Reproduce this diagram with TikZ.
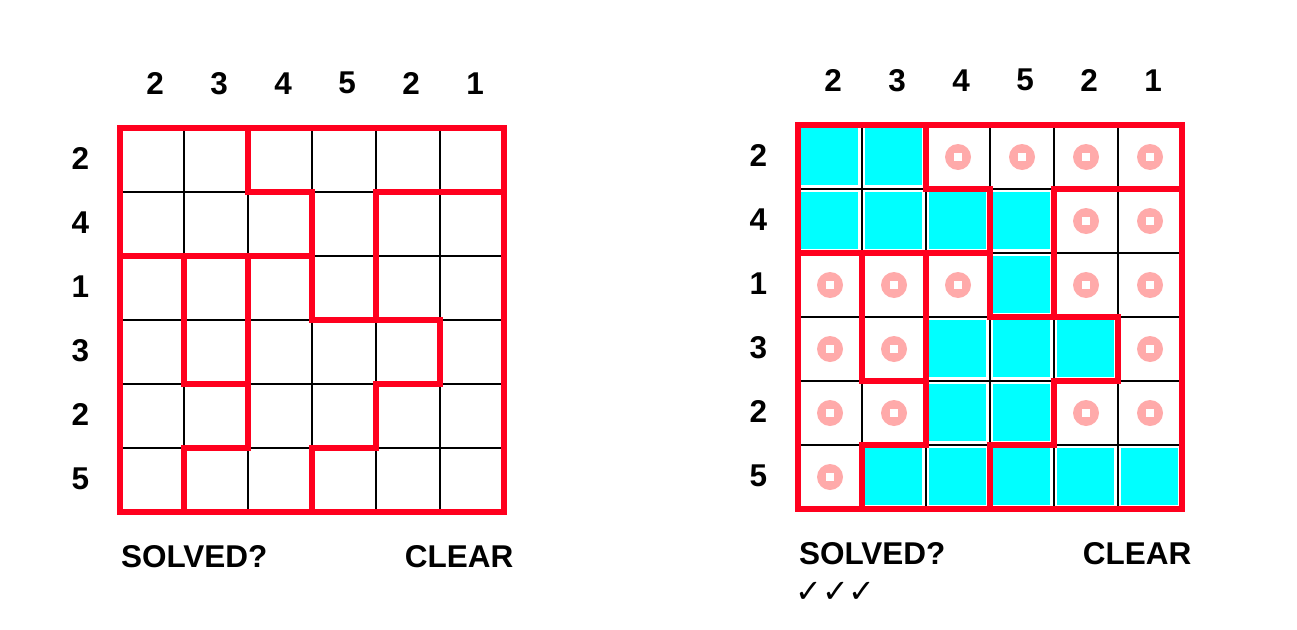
\documentclass[tikz,border=0pt]{standalone}
\usepackage{fontspec}
\setmainfont{Liberation Sans}
\newfontfamily\symfont{DejaVu Sans}
\definecolor{gridred}{RGB}{255,0,30}
\definecolor{cellcyan}{RGB}{0,255,255}
\definecolor{dotpink}{RGB}{255,170,170}
\begin{document}
\begin{tikzpicture}[x=1pt,y=-1pt,
  lbl/.style={font=\fontsize{31.5}{36}\selectfont\bfseries, inner sep=0pt},
  thinline/.style={line width=1.3pt, black},
  wall/.style={line width=5.5pt, gridred, line cap=rect, line join=miter},
  cyancell/.style={fill=cellcyan},
]
\useasboundingbox (0,0) rectangle (1297,629);
\fill[white] (0,0) rectangle (1297,629);

% ---------- left puzzle ----------
\begin{scope}[shift={(120,128)}, x=64pt, y=-64pt]
  \foreach \i in {1,...,5} {
    \draw[thinline] (\i,0) -- (\i,6);
    \draw[thinline] (0,\i) -- (6,\i);
  }
  \draw[wall] (0,0) rectangle (6,6);
  \draw[wall] (2,0) -- (2,1) -- (3,1) -- (3,3) -- (5,3) -- (5,4) -- (4,4) -- (4,5) -- (3,5) -- (3,6);
  \draw[wall] (6,1) -- (4,1) -- (4,3);
  \draw[wall] (0,2) -- (3,2);
  \draw[wall] (1,2) -- (1,4) -- (2,4);
  \draw[wall] (2,2) -- (2,5) -- (1,5) -- (1,6);
  \foreach \v [count=\c from 0] in {2,3,4,5,2,1}
    \node[lbl] (lc\c) at (\c+0.55,-0.7) {\v};
  \foreach \v [count=\r from 0] in {2,4,1,3,2,5}
    \node[lbl] (lr\r) at (-0.62,\r+0.48) {\v};
  \node[lbl] (lsolved) at (1.16,6.7) {SOLVED?};
  \node[lbl] (lclear) at (5.3,6.7) {CLEAR};
\end{scope}

% ---------- right puzzle ----------
\begin{scope}[shift={(798,125)}, x=64pt, y=-64pt]
  \foreach \c/\r in {0/0,1/0, 0/1,1/1,2/1,3/1, 3/2, 2/3,3/3,4/3, 2/4,3/4, 1/5,2/5,3/5,4/5,5/5}
    \fill[cyancell] (\c+0.04,\r+0.04) rectangle (\c+0.94,\r+0.94);
  \foreach \c/\r in {2/0,3/0,4/0,5/0, 4/1,5/1, 0/2,1/2,2/2,4/2,5/2, 0/3,1/3,5/3, 0/4,1/4,4/4,5/4, 0/5} {
    \fill[dotpink] (\c+0.5,\r+0.5) circle[radius=13pt];
    \fill[white] (\c+0.5,\r+0.5) ++(-4.4pt,-4.4pt) rectangle ++(8.8pt,8.8pt);
  }
  \foreach \i in {1,...,5} {
    \draw[thinline] (\i,0) -- (\i,6);
    \draw[thinline] (0,\i) -- (6,\i);
  }
  \draw[wall] (0,0) rectangle (6,6);
  \draw[wall] (2,0) -- (2,1) -- (3,1) -- (3,3) -- (5,3) -- (5,4) -- (4,4) -- (4,5) -- (3,5) -- (3,6);
  \draw[wall] (6,1) -- (4,1) -- (4,3);
  \draw[wall] (0,2) -- (3,2);
  \draw[wall] (1,2) -- (1,4) -- (2,4);
  \draw[wall] (2,2) -- (2,5) -- (1,5) -- (1,6);
  \foreach \v [count=\c from 0] in {2,3,4,5,2,1}
    \node[lbl] (rc\c) at (\c+0.55,-0.7) {\v};
  \foreach \v [count=\r from 0] in {2,4,1,3,2,5}
    \node[lbl] (rr\r) at (-0.62,\r+0.48) {\v};
  \node[lbl] (rsolved) at (1.16,6.7) {SOLVED?};
  \node[lbl] (rclear) at (5.3,6.7) {CLEAR};
  \node[inner sep=0pt, font=\symfont\fontsize{32}{36}\selectfont] (checks) at (0.586,7.3) {✓✓✓};
\end{scope}
\end{tikzpicture}
\end{document}
